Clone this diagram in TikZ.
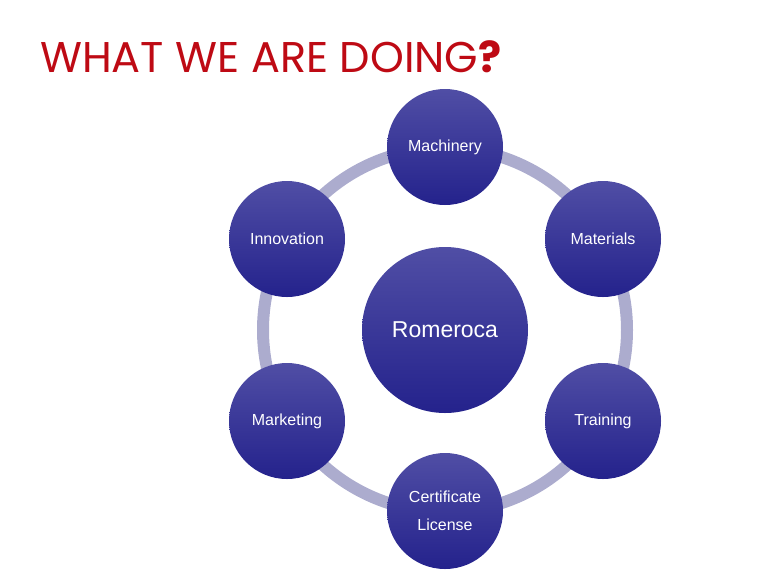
\documentclass[tikz,border=0pt]{standalone}
\usepackage{fontspec}
\setmainfont{Liberation Sans}
\newfontfamily\titlefont{Poppins}
\definecolor{titlered}{RGB}{190,10,20}
\definecolor{ringcol}{RGB}{172,172,206}
\definecolor{ctop}{RGB}{80,78,165}
\definecolor{cbot}{RGB}{36,34,140}
\begin{document}
\begin{tikzpicture}[x=1pt,y=-1pt,
  bubble/.style={circle, minimum size=116pt, inner sep=0pt, top color=ctop, bottom color=cbot, draw=none, text=white, font=\fontsize{16}{28}\selectfont, align=center},
  hub/.style={bubble, minimum size=166pt, font=\fontsize{23}{28}\selectfont}]
\useasboundingbox (0,0) rectangle (766,574);
\node[anchor=base west, inner sep=0pt, text=titlered, font=\titlefont\fontsize{43}{43}\selectfont] (title) at (40,72) {WHAT WE ARE DOING\raisebox{0pt}{\bfseries ?}};
\coordinate (c) at (445,330);
\draw[ringcol, line width=12pt] (c) circle[radius=182];
\node[hub] (hub) at (c) {Romeroca};
\node[bubble] (mach) at (445,147) {Machinery};
\node[bubble] (mat) at (603,239) {Materials};
\node[bubble] (train) at (603,421) {Training};
\node[bubble] (cert) at (445,511) {Certificate\\License};
\node[bubble] (mark) at (287,421) {Marketing};
\node[bubble] (innov) at (287,239) {Innovation};
\end{tikzpicture}
\end{document}
